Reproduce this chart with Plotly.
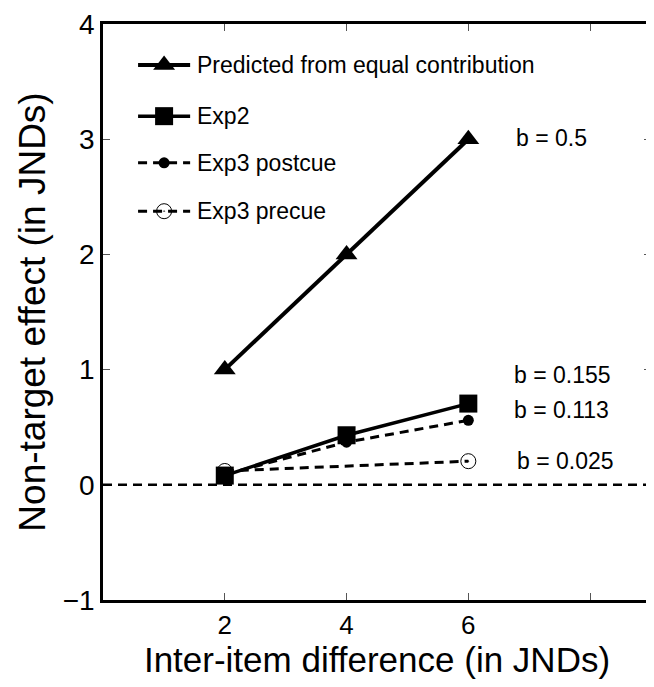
import plotly.graph_objects as go

# ---- data ----
x_vals = [2, 4, 6]
predicted = [1.0, 2.0, 3.0]
exp2 = [0.08, 0.43, 0.705]
post_x = [2, 4, 6]
exp3_post = [0.09, 0.37, 0.56]
pre_x = [2, 6]
exp3_pre = [0.12, 0.205]

slope_labels = ["b = 0.5", "b = 0.155", "b = 0.113", "b = 0.025"]
slope_label_x = [6.75, 6.72, 6.72, 6.77]
slope_label_y = [3.01, 0.95, 0.65, 0.21]

legend_labels = ["Predicted from equal contribution", "Exp2", "Exp3 postcue", "Exp3 precue"]

xtick_vals = [2, 4, 6, 8]
xtick_text = ["2", "4", "6", ""]
ytick_vals = [-1, 0, 1, 2, 3, 4]
ytick_text = ["\u22121", "0", "1", "2", "3", "4"]

FONT = "Liberation Sans, Arial, sans-serif"
DASH = "9px,6px"

styles = [
    dict(line=dict(color="black", width=4),
         marker=dict(symbol="triangle-up", size=19, color="black")),
    dict(line=dict(color="black", width=3.5),
         marker=dict(symbol="square", size=18, color="black")),
    dict(line=dict(color="black", width=3, dash=DASH),
         marker=dict(symbol="circle", size=11, color="black")),
    dict(line=dict(color="black", width=3, dash=DASH),
         marker=dict(symbol="circle-open-dot", size=15, color="black",
                     line=dict(width=1, color="black"))),
]

fig = go.Figure()

# zero reference line
fig.add_hline(y=0, line=dict(color="black", width=2.5, dash=DASH))

fig.add_trace(go.Scatter(x=x_vals, y=predicted, mode="lines+markers",
                         name=legend_labels[0], showlegend=False, **styles[0]))
fig.add_trace(go.Scatter(x=post_x, y=exp3_post, mode="lines+markers",
                         name=legend_labels[2], showlegend=False, **styles[2]))
fig.add_trace(go.Scatter(x=pre_x, y=exp3_pre, mode="lines+markers",
                         name=legend_labels[3], showlegend=False, **styles[3]))
fig.add_trace(go.Scatter(x=x_vals, y=exp2, mode="lines+markers",
                         name=legend_labels[1], showlegend=False, **styles[1]))

# ---- hand-drawn legend on an overlay axis (paper-like 0..1 coordinates) ----
leg_x0, leg_x1, leg_text_x = 0.064, 0.159, 0.168
leg_rows = [0.929, 0.840, 0.759, 0.675]
for label, st, ly in zip(legend_labels, styles, leg_rows):
    fig.add_trace(go.Scatter(x=[leg_x0, leg_x1], y=[ly, ly], mode="lines",
                             line=st["line"], xaxis="x2", yaxis="y2",
                             showlegend=False, hoverinfo="skip"))
    fig.add_trace(go.Scatter(x=[(leg_x0 + leg_x1) / 2], y=[ly], mode="markers",
                             marker=st["marker"], xaxis="x2", yaxis="y2",
                             showlegend=False, hoverinfo="skip"))
    fig.add_annotation(x=leg_text_x, y=ly, xref="paper", yref="paper", text=label,
                       showarrow=False, xanchor="left", yanchor="middle",
                       font=dict(size=23, color="black", family=FONT))

for t, xx, yy in zip(slope_labels, slope_label_x, slope_label_y):
    fig.add_annotation(x=xx, y=yy, text=t, showarrow=False, xanchor="left",
                       yanchor="middle", font=dict(size=23, color="black", family=FONT))

axis_common = dict(
    showline=True, linecolor="black", linewidth=2.5, mirror="ticks",
    ticks="inside", ticklen=7, tickwidth=1, tickcolor="#555",
    showgrid=False, zeroline=False, automargin=False,
)

fig.update_xaxes(range=[0, 9], tickvals=xtick_vals, ticktext=xtick_text,
                 tickfont=dict(size=26, color="black", family=FONT),
                 title=dict(text="Inter-item difference (in JNDs)",
                            font=dict(size=35, color="black", family=FONT), standoff=5),
                 **axis_common)
fig.update_yaxes(range=[-1, 4], tickvals=ytick_vals, ticktext=ytick_text,
                 tickfont=dict(size=28, color="black", family=FONT),
                 title=dict(text="Non-target effect (in JNDs)",
                            font=dict(size=37, color="black", family=FONT), standoff=6),
                 **axis_common)

fig.update_layout(
    width=654, height=687,
    margin=dict(l=95, r=11, t=16, b=95),
    paper_bgcolor="white", plot_bgcolor="white",
    font=dict(family=FONT, color="black"),
    showlegend=False,
    xaxis2=dict(overlaying="x", range=[0, 1], visible=False, domain=[0, 1]),
    yaxis2=dict(overlaying="y", range=[0, 1], visible=False, domain=[0, 1]),
)

fig.write_html("out.html")
